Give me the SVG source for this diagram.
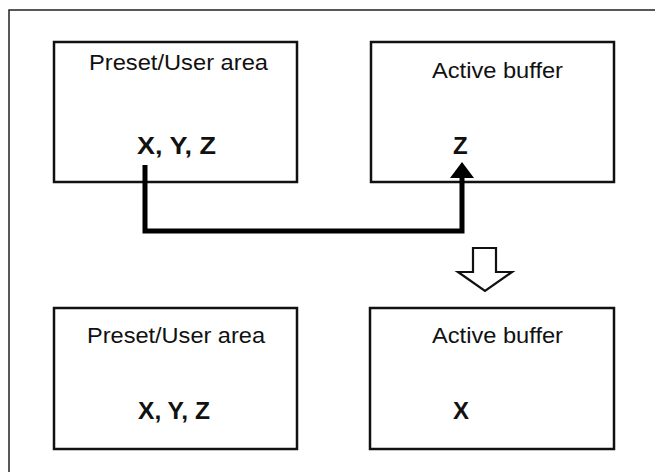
<svg xmlns="http://www.w3.org/2000/svg" width="655" height="472" viewBox="0 0 655 472">
<style>
.frame{fill:none;stroke:#222;stroke-width:1.5}
.box{fill:#fff;stroke:#111;stroke-width:2.5}
.lbl{font-family:"Liberation Sans",Arial,sans-serif;font-size:22px;fill:#111}
.val{font-family:"Liberation Sans",Arial,sans-serif;font-size:24px;font-weight:bold;fill:#111}
.conn{fill:none;stroke:#000;stroke-width:5;stroke-linejoin:miter}
</style>
<rect width="655" height="472" fill="#fff"/>
<path class="frame" d="M9,472 V10 H655"/>
<g id="top-preset">
<rect class="box" x="54" y="42" width="243" height="140"/>
<text class="lbl" x="89" y="70" textLength="179" lengthAdjust="spacingAndGlyphs">Preset/User area</text>
<text class="val" x="137" y="154" textLength="79" lengthAdjust="spacingAndGlyphs">X, Y, Z</text>
</g>
<g id="top-active">
<rect class="box" x="371" y="42" width="243" height="140"/>
<text class="lbl" x="432" y="78" textLength="131" lengthAdjust="spacingAndGlyphs">Active buffer</text>
<text class="val" x="453" y="154">Z</text>
</g>
<g id="bottom-preset">
<rect class="box" x="54" y="308" width="243" height="141"/>
<text class="lbl" x="87" y="343" textLength="178" lengthAdjust="spacingAndGlyphs">Preset/User area</text>
<text class="val" x="138" y="419" textLength="72" lengthAdjust="spacingAndGlyphs">X, Y, Z</text>
</g>
<g id="bottom-active">
<rect class="box" x="370" y="308" width="244" height="141"/>
<text class="lbl" x="432" y="343" textLength="131" lengthAdjust="spacingAndGlyphs">Active buffer</text>
<text class="val" x="453" y="419">X</text>
</g>
<g id="connectors">
<path class="conn" d="M145,165 V231 H462 V176"/>
<polygon points="462,162 474,178 450,178" fill="#000"/>
<polygon points="473,248 496,248 496,272 512,272 485,291 458,272 473,272" fill="#fff" stroke="#111" stroke-width="2.2" stroke-linejoin="miter"/>
</g>
</svg>
